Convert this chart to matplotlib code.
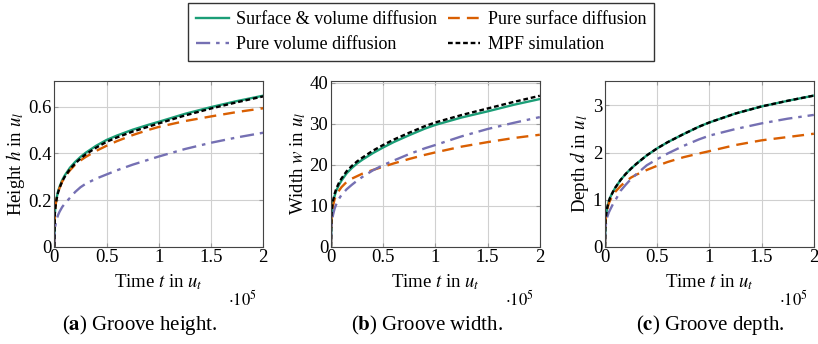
import matplotlib
matplotlib.use("Agg")
import matplotlib.pyplot as plt
from matplotlib.lines import Line2D

plt.rcParams["font.family"] = "serif"
plt.rcParams["font.serif"] = ["Liberation Serif", "DejaVu Serif"]
plt.rcParams["mathtext.fontset"] = "stix"

# time in units of 1e5 u_t
t = [0, 0.005, 0.01, 0.02, 0.035, 0.05, 0.075, 0.1, 0.15, 0.2, 0.25, 0.3, 0.4,
     0.5, 0.6, 0.75, 0.9, 1.0, 1.25, 1.5, 1.75, 2.0]

# (a) groove height
h_both = [0, 0.145, 0.172, 0.205, 0.236, 0.257, 0.285, 0.306, 0.339, 0.364, 0.385, 0.403, 0.433,
          0.458, 0.477, 0.502, 0.523, 0.536, 0.570, 0.599, 0.625, 0.648]
h_surf = [0, 0.145, 0.170, 0.202, 0.232, 0.252, 0.279, 0.298, 0.328, 0.352, 0.370, 0.385, 0.411,
          0.433, 0.453, 0.479, 0.501, 0.514, 0.539, 0.559, 0.578, 0.594]
h_vol = [0, 0.075, 0.090, 0.112, 0.135, 0.150, 0.170, 0.185, 0.210, 0.235, 0.255, 0.270, 0.292,
         0.310, 0.328, 0.352, 0.373, 0.387, 0.419, 0.446, 0.469, 0.489]
h_mpf = [0, 0.142, 0.168, 0.200, 0.231, 0.252, 0.280, 0.300, 0.333, 0.357, 0.378, 0.396, 0.425,
         0.450, 0.469, 0.494, 0.515, 0.529, 0.563, 0.593, 0.620, 0.645]

# (b) groove width
w_both = [0, 7.6, 9.1, 10.8, 12.4, 13.6, 15.0, 16.1, 17.9, 19.2, 20.3, 21.2, 22.8,
          24.2, 25.5, 27.2, 28.8, 29.7, 31.5, 33.0, 34.6, 36.0]
w_surf = [0, 6.8, 8.2, 10.0, 11.6, 12.6, 13.6, 14.5, 15.8, 16.6, 17.2, 17.8, 18.7,
          19.5, 20.3, 21.4, 22.4, 23.0, 24.4, 25.5, 26.5, 27.3]
w_vol = [0, 5.0, 6.3, 7.8, 9.3, 10.3, 11.6, 12.6, 14.0, 15.1, 16.1, 17.0, 18.6,
         19.9, 21.0, 22.6, 24.0, 24.8, 26.9, 28.7, 30.2, 31.6]
w_mpf = [0, 7.9, 9.5, 11.2, 12.9, 14.1, 15.5, 16.6, 18.4, 19.7, 20.8, 21.7, 23.4,
         24.8, 26.1, 27.8, 29.4, 30.3, 32.1, 33.7, 35.3, 36.8]

# (c) groove depth
d_both = [0, 0.55, 0.66, 0.82, 0.95, 1.05, 1.16, 1.26, 1.42, 1.55, 1.66, 1.76, 1.94,
          2.09, 2.22, 2.39, 2.55, 2.64, 2.83, 2.98, 3.10, 3.21]
d_surf = [0, 0.52, 0.63, 0.78, 0.91, 0.99, 1.09, 1.17, 1.29, 1.39, 1.47, 1.53, 1.63,
          1.72, 1.80, 1.90, 1.98, 2.03, 2.16, 2.26, 2.33, 2.40]
d_vol = [0, 0.40, 0.50, 0.62, 0.72, 0.79, 0.90, 0.99, 1.19, 1.32, 1.44, 1.54, 1.73,
         1.86, 1.98, 2.14, 2.28, 2.36, 2.50, 2.62, 2.72, 2.80]
d_mpf = [0, 0.55, 0.66, 0.82, 0.95, 1.05, 1.16, 1.26, 1.42, 1.55, 1.66, 1.76, 1.94,
         2.09, 2.22, 2.39, 2.55, 2.64, 2.83, 2.98, 3.10, 3.21]

names = ["Surface & volume diffusion", "Pure surface diffusion",
         "Pure volume diffusion", "MPF simulation"]
colors = ["#1b9e77", "#d95f02", "#7570b3", "black"]
styles = ["-", (0, (5, 3)), (0, (6, 2.5, 1.5, 2.5)), (0, (2, 1.2))]

panels = [
    (0.0664, [h_both, h_surf, h_vol, h_mpf], 0.711, [0, 0.2, 0.4, 0.6], ["0", "0.2", "0.4", "0.6"],
     r"Height $h$ in $u_l$", "Groove height.", "a", 0.171),
    (0.4046, [w_both, w_surf, w_vol, w_mpf], 40.4, [0, 10, 20, 30, 40], ["0", "10", "20", "30", "40"],
     r"Width $w$ in $u_l$", "Groove width.", "b", 0.522),
    (0.7396, [d_both, d_surf, d_vol, d_mpf], 3.52, [0, 1, 2, 3], ["0", "1", "2", "3"],
     r"Depth $d$ in $u_l$", "Groove depth.", "c", 0.868),
]

fig = plt.figure(figsize=(8.18, 3.44), dpi=100)

for left, series, ytop, yt, ytl, ylab, cap, letter, capx in panels:
    ax = fig.add_axes([left, 0.2828, 0.2553, 0.4817])
    for ys, c, ls in zip(series, colors, styles):
        ax.plot(t, ys, color=c, linestyle=ls, linewidth=1.7)
    ax.set_xlim(0, 2)
    ax.set_ylim(0, ytop)
    ax.set_xticks([0, 0.5, 1, 1.5, 2])
    ax.set_xticklabels(["0", "0.5", "1", "1.5", "2"])
    ax.set_yticks(yt)
    ax.set_yticklabels(ytl)
    ax.grid(True, color="#d0d0d0", linewidth=0.8)
    ax.set_axisbelow(True)
    ax.tick_params(direction="in", top=True, right=True, color="#999999",
                   labelsize=13.5, length=3, pad=2)
    for s in ax.spines.values():
        s.set_color("#444444")
        s.set_linewidth(0.8)
    ax.set_xlabel(r"Time $t$ in $u_t$", fontsize=13.5, labelpad=4)
    ax.set_ylabel(ylab, fontsize=13.5, labelpad=1)
    ax.text(0.97, -0.32, r"$\cdot10^5$", transform=ax.transAxes, ha="right",
            va="center", fontsize=12)
    fig.text(capx, 0.055, r"($\mathbf{" + letter + r"}$) " + cap,
             ha="center", va="center", fontsize=15)

# legend is filled column by column, so order handles to get rows like the reference
order = [0, 2, 1, 3]
handles = [Line2D([], [], color=colors[i], linestyle=styles[i], linewidth=1.7) for i in order]
fig.legend(handles, [names[i] for i in order], loc="center", bbox_to_anchor=(0.515, 0.907),
           ncol=2, fontsize=13, frameon=True, fancybox=False, edgecolor="black",
           handlelength=1.8, handletextpad=0.4, columnspacing=0.6,
           borderpad=0.45, labelspacing=0.45)

fig.savefig("out.png", dpi=100)
